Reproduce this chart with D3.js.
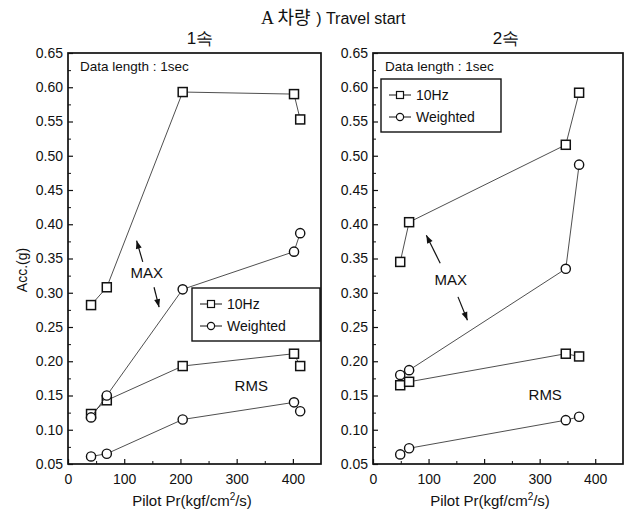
<!DOCTYPE html>
<html>
<head>
<meta charset="utf-8">
<script src="https://cdn.jsdelivr.net/npm/d3@7"></script>
<style>
  html, body { margin: 0; padding: 0; background: #fff; }
  svg { display: block; font-family: "Liberation Sans", Arial, sans-serif; }
</style>
</head>
<body>
<div id="chart"></div>
<script>
// ---- data ----------------------------------------------------------------
var yTicks = [0.05, 0.10, 0.15, 0.20, 0.25, 0.30, 0.35, 0.40, 0.45, 0.50, 0.55, 0.60, 0.65];
var xTicks = [0, 100, 200, 300, 400];

// 1속
var p1X          = [41, 69, 204, 402, 413];
var p1MaxHz      = [0.282, 0.308, 0.593, 0.590, 0.553];
var p1MaxWeight  = [0.118, 0.150, 0.305, 0.360, 0.387];
var p1RmsHz      = [0.123, 0.143, 0.193, 0.211, 0.193];
var p1RmsWeight  = [0.061, 0.065, 0.115, 0.140, 0.127];

// 2속
var p2X          = [49, 65, 347, 371];
var p2MaxHz      = [0.345, 0.403, 0.516, 0.592];
var p2MaxWeight  = [0.180, 0.187, 0.335, 0.487];
var p2RmsHz      = [0.165, 0.170, 0.211, 0.207];
var p2RmsWeight  = [0.064, 0.073, 0.114, 0.119];

var seriesNames = ['10Hz', 'Weighted'];

// ---- drawing -------------------------------------------------------------
var W = 629, H = 518;
var svg = d3.select('#chart').append('svg').attr('width', W).attr('height', H);

var INK = '#111';

// title
var title = svg.append('text').attr('x', 261).attr('y', 24).attr('fill', INK);
title.append('tspan').attr('font-family', '"Liberation Serif", "Noto Sans CJK KR", serif')
  .attr('font-size', 18).text('A 차량 ');
title.append('tspan').attr('font-size', 16).attr('dx', 1).text(') Travel start');

function zip(xs, ys) { return xs.map(function (x, i) { return { x: x, y: ys[i] }; }); }

function panel(opt) {
  var x = d3.scaleLinear().domain([0, 450]).range([opt.left, opt.right]);
  var y = d3.scaleLinear().domain([0.05, 0.65]).range([464, 53]);
  var g = svg.append('g');

  // sub title
  g.append('text').attr('x', opt.titleX).attr('y', 44).attr('text-anchor', 'middle')
    .attr('font-size', 17).attr('fill', INK).text(opt.title);

  // frame
  g.append('rect').attr('x', opt.left).attr('y', 53)
    .attr('width', opt.right - opt.left).attr('height', 464 - 53)
    .attr('fill', 'none').attr('stroke', INK).attr('stroke-width', 1.7);

  // y axis (inner ticks)
  var yMinor = d3.range(0.075, 0.65, 0.05);
  g.append('g').attr('transform', 'translate(' + opt.left + ',0)')
    .call(d3.axisRight(y).tickValues(yMinor).tickSize(3).tickFormat(''))
    .call(function (s) { s.select('.domain').remove(); s.selectAll('line').attr('stroke', INK); });
  g.append('g').attr('transform', 'translate(' + opt.left + ',0)')
    .call(d3.axisRight(y).tickValues(yTicks).tickSize(5).tickFormat(d3.format('.2f')))
    .call(function (s) {
      s.select('.domain').remove();
      s.selectAll('line').attr('stroke', INK).attr('stroke-width', 1.2);
      s.selectAll('text').attr('x', -5).attr('text-anchor', 'end')
        .attr('font-size', 14).attr('fill', INK).attr('font-family', '"Liberation Sans", Arial, sans-serif');
    });

  // x axis (inner ticks)
  var xMinor = [50, 150, 250, 350];
  g.append('g').attr('transform', 'translate(0,464)')
    .call(d3.axisTop(x).tickValues(xMinor).tickSize(3).tickFormat(''))
    .call(function (s) { s.select('.domain').remove(); s.selectAll('line').attr('stroke', INK); });
  g.append('g').attr('transform', 'translate(0,464)')
    .call(d3.axisTop(x).tickValues(xTicks).tickSize(5))
    .call(function (s) {
      s.select('.domain').remove();
      s.selectAll('line').attr('stroke', INK).attr('stroke-width', 1.2);
      s.selectAll('text').attr('y', 20).attr('dy', 0)
        .attr('font-size', 14).attr('fill', INK).attr('font-family', '"Liberation Sans", Arial, sans-serif');
    });

  // x label
  var xl = g.append('text').attr('x', opt.xLabelX).attr('y', 506).attr('text-anchor', 'middle')
    .attr('font-size', 15).attr('fill', INK);
  xl.append('tspan').text('Pilot Pr(kgf/cm');
  xl.append('tspan').attr('font-size', 10).attr('dy', -6).text('2');
  xl.append('tspan').attr('dy', 6).text('/s)');

  // data length note
  g.append('text').attr('x', opt.left + 12).attr('y', 71).attr('font-size', 13.5)
    .attr('fill', INK).text('Data length : 1sec');

  var line = d3.line().x(function (d) { return x(d.x); }).y(function (d) { return y(d.y); });

  function drawSeries(pts, kind) {
    g.append('path').datum(pts).attr('d', line).attr('fill', 'none')
      .attr('stroke', '#222').attr('stroke-width', 0.8);
    if (kind === 0) {
      g.selectAll(null).data(pts).join('rect')
        .attr('x', function (d) { return x(d.x) - 4.5; })
        .attr('y', function (d) { return y(d.y) - 4.5; })
        .attr('width', 9).attr('height', 9)
        .attr('fill', '#fff').attr('stroke', INK).attr('stroke-width', 1.5);
    } else {
      g.selectAll(null).data(pts).join('circle')
        .attr('cx', function (d) { return x(d.x); })
        .attr('cy', function (d) { return y(d.y); })
        .attr('r', 4.6)
        .attr('fill', '#fff').attr('stroke', INK).attr('stroke-width', 1.4);
    }
  }
  drawSeries(zip(opt.xs, opt.rmsW), 1);
  drawSeries(zip(opt.xs, opt.rmsHz), 0);
  drawSeries(zip(opt.xs, opt.maxW), 1);
  drawSeries(zip(opt.xs, opt.maxHz), 0);

  // annotations
  g.append('text').attr('x', x(opt.maxAt[0])).attr('y', y(opt.maxAt[1]) + 5)
    .attr('text-anchor', 'middle').attr('font-size', 15).attr('fill', INK).text('MAX');
  g.append('text').attr('x', x(opt.rmsAt[0])).attr('y', y(opt.rmsAt[1]) + 5)
    .attr('text-anchor', 'middle').attr('font-size', 15).attr('fill', INK).text('RMS');
  opt.arrows.forEach(function (a) {
    var x1 = x(a[0]), y1 = y(a[1]), x2 = x(a[2]), y2 = y(a[3]);
    var ang = Math.atan2(y2 - y1, x2 - x1);
    g.append('line').attr('x1', x1).attr('y1', y1).attr('x2', x2).attr('y2', y2)
      .attr('stroke', INK).attr('stroke-width', 1.2);
    var hl = 8, hw = 3;
    var bx = x2 - hl * Math.cos(ang), by = y2 - hl * Math.sin(ang);
    g.append('path')
      .attr('d', 'M' + x2 + ',' + y2 +
        'L' + (bx + hw * Math.sin(ang)) + ',' + (by - hw * Math.cos(ang)) +
        'L' + (bx - hw * Math.sin(ang)) + ',' + (by + hw * Math.cos(ang)) + 'Z')
      .attr('fill', INK);
  });

  // legend
  var L = opt.legend;
  g.append('rect').attr('x', L.x).attr('y', L.y).attr('width', L.w).attr('height', L.h)
    .attr('fill', '#fff').attr('stroke', INK).attr('stroke-width', 1.4);
  seriesNames.forEach(function (name, i) {
    var cy = L.y + 16 + i * 22;
    var lx = L.x + 8;
    g.append('line').attr('x1', lx).attr('x2', lx + 22).attr('y1', cy).attr('y2', cy)
      .attr('stroke', INK).attr('stroke-width', 1);
    if (i === 0) {
      g.append('rect').attr('x', lx + 7.5).attr('y', cy - 3.5).attr('width', 7).attr('height', 7)
        .attr('fill', '#fff').attr('stroke', INK).attr('stroke-width', 1.2);
    } else {
      g.append('circle').attr('cx', lx + 11).attr('cy', cy).attr('r', 3.6)
        .attr('fill', '#fff').attr('stroke', INK).attr('stroke-width', 1.2);
    }
    g.append('text').attr('x', lx + 27).attr('y', cy + 5).attr('font-size', 14)
      .attr('fill', INK).text(name);
  });
}

panel({
  title: '1속', titleX: 200, xLabelX: 192, left: 68, right: 321,
  xs: p1X, maxHz: p1MaxHz, maxW: p1MaxWeight, rmsHz: p1RmsHz, rmsW: p1RmsWeight,
  maxAt: [140, 0.329], rmsAt: [326, 0.164],
  arrows: [[133, 0.345, 122, 0.376], [153, 0.308, 162, 0.279]],
  legend: { x: 192, y: 288, w: 128, h: 53 }
});

panel({
  title: '2속', titleX: 506, xLabelX: 490, left: 373, right: 623,
  xs: p2X, maxHz: p2MaxHz, maxW: p2MaxWeight, rmsHz: p2RmsHz, rmsW: p2RmsWeight,
  maxAt: [140, 0.319], rmsAt: [310, 0.151],
  arrows: [[121, 0.343, 96, 0.384], [153, 0.294, 170, 0.260]],
  legend: { x: 381, y: 79, w: 120, h: 53 }
});

// y label (left only)
svg.append('text').attr('transform', 'translate(27,270) rotate(-90)')
  .attr('text-anchor', 'middle').attr('font-size', 14).attr('fill', INK).text('Acc.(g)');
</script>
</body>
</html>
